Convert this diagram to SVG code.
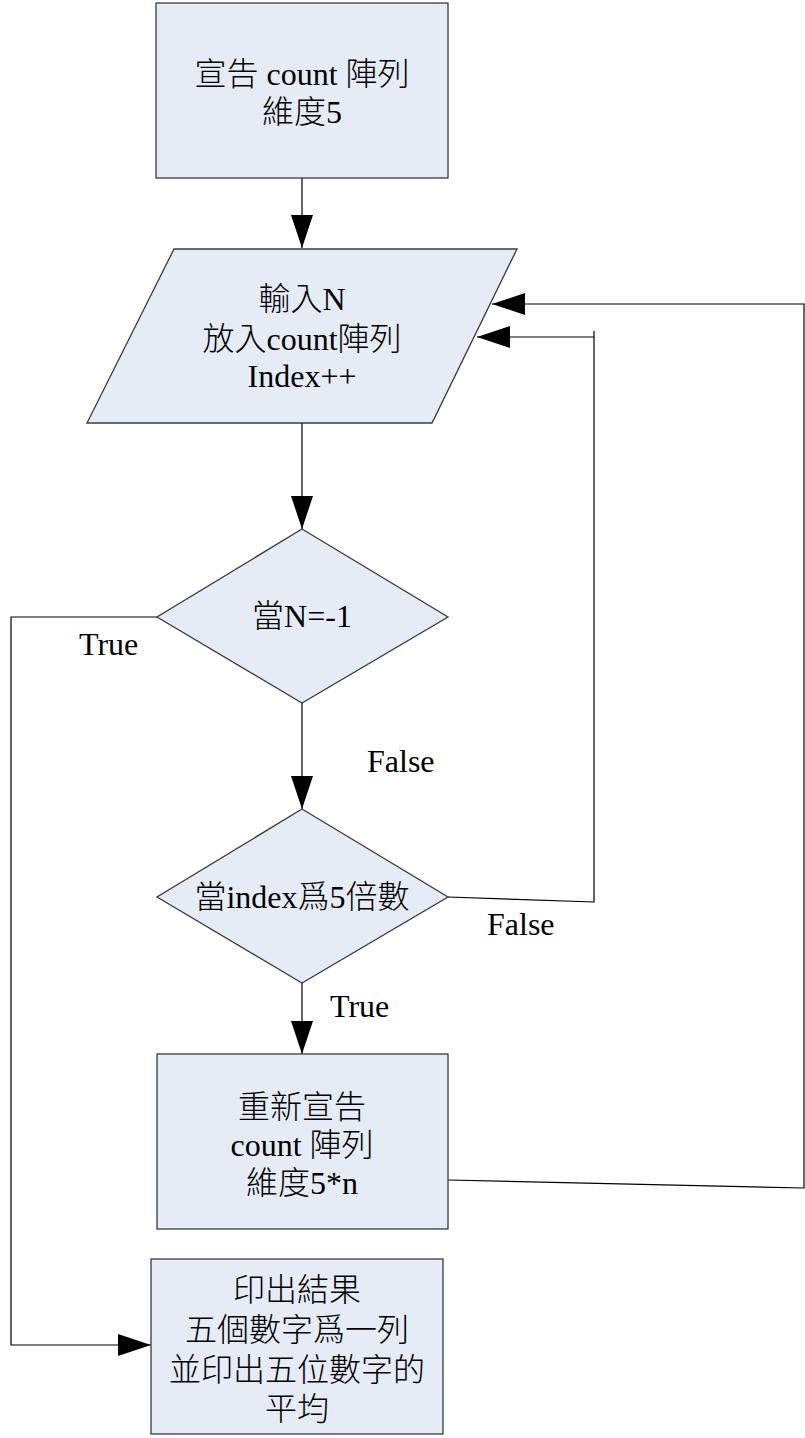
<svg xmlns="http://www.w3.org/2000/svg" width="805" height="1438" viewBox="0 0 805 1438">
  <style>
    .shape { fill: #E6ECF6; stroke: #3a3a3a; stroke-width: 1.3; }
    .t { font-family: "Liberation Serif", "Noto Sans CJK TC", serif; font-size: 32px; font-weight: 300; fill: #000; text-anchor: middle; }
    .lbl { font-family: "Liberation Serif", "Noto Sans CJK TC", serif; font-size: 32px; fill: #000; }
    .conn { fill: none; stroke: #000; stroke-width: 1.2; }
  </style>
  <defs>
    <marker id="arrow" markerUnits="userSpaceOnUse" markerWidth="34" markerHeight="24" refX="33" refY="11" orient="auto">
      <path d="M0,0 L33,11 L0,22 z" fill="#000"/>
    </marker>
  </defs>
  <rect width="805" height="1438" fill="#fff"/>

  <g id="connectors">
    <path class="conn" d="M302,178 V248" marker-end="url(#arrow)"/>
    <path class="conn" d="M302,423 V529" marker-end="url(#arrow)"/>
    <path class="conn" d="M302,703 V809" marker-end="url(#arrow)"/>
    <path class="conn" d="M302,983 V1054" marker-end="url(#arrow)"/>
    <path class="conn" d="M448,897 L594,902 V331 M594,337 H477" marker-end="url(#arrow)"/>
    <path class="conn" d="M448,1180 L804,1188 V304 H492" marker-end="url(#arrow)"/>
    <path class="conn" d="M157,617 H11 V1345 H151" marker-end="url(#arrow)"/>
    <text class="lbl" x="79" y="655">True</text>
    <text class="lbl" x="367" y="772">False</text>
    <text class="lbl" x="487" y="935">False</text>
    <text class="lbl" x="330" y="1017">True</text>
  </g>

  <g id="declare">
    <rect class="shape" x="156" y="3" width="292" height="175"/>
    <text class="t" x="302" y="85">宣告 count 陣列</text>
    <text class="t" x="302" y="123">維度5</text>
  </g>

  <g id="input">
    <polygon class="shape" points="174,249 517,249 432,423 87,423"/>
    <text class="t" x="302" y="310">輸入N</text>
    <text class="t" x="302" y="350">放入count陣列</text>
    <text class="t" x="302" y="387">Index++</text>
  </g>

  <g id="check-n">
    <polygon class="shape" points="302,529 448,617 302,703 157,617"/>
    <text class="t" x="302" y="627">當N=-1</text>
  </g>

  <g id="check-index">
    <polygon class="shape" points="302,809 448,897 302,983 157,897"/>
    <text class="t" x="302" y="908">當index爲5倍數</text>
  </g>

  <g id="redeclare">
    <rect class="shape" x="157" y="1054" width="291" height="175"/>
    <text class="t" x="302" y="1118">重新宣告</text>
    <text class="t" x="302" y="1156">count 陣列</text>
    <text class="t" x="302" y="1194">維度5*n</text>
  </g>

  <g id="output">
    <rect class="shape" x="151" y="1259" width="292" height="175"/>
    <text class="t" x="297" y="1301">印出結果</text>
    <text class="t" x="297" y="1341">五個數字爲一列</text>
    <text class="t" x="297" y="1381">並印出五位數字的</text>
    <text class="t" x="297" y="1420">平均</text>
  </g>
</svg>
